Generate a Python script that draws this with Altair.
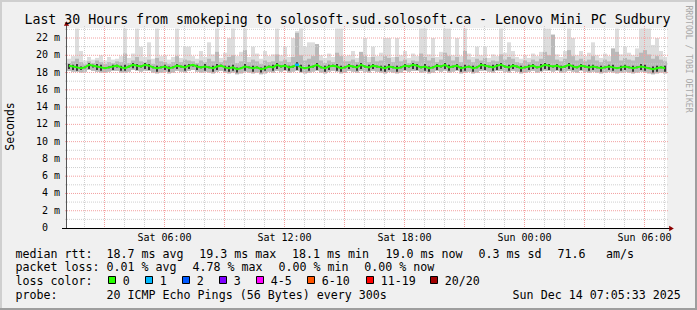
import altair as alt
import pandas as pd

FONT = "DejaVu Sans Mono"

# ---------------- data ----------------
t_start = 1.125          # hours since Sat 00:00 (left edge of plot)
t_span = 30.0            # "Last 30 Hours"
step_h = 0.2             # consolidated step (12 min)
y_top = 23.16            # top of the value axis (seconds * 1000)

median_ms = [18.8,18.7,18.6,18.5,18.6,18.9,18.8,18.7,18.6,18.5,
             18.6,18.7,18.8,18.6,18.5,18.7,18.9,18.8,18.7,18.9,
             18.8,18.6,18.5,18.6,18.7,18.5,18.6,18.8,18.7,18.6,
             18.8,18.9,18.7,18.6,18.7,18.6,18.5,18.7,18.8,18.6,
             18.5,18.6,18.4,18.5,18.7,18.6,18.5,18.6,18.4,18.5,
             18.7,18.6,18.9,18.7,18.8,18.6,18.7,18.9,18.6,18.5,
             18.6,18.7,18.9,18.6,18.5,18.7,18.8,18.7,18.5,18.6,
             18.8,18.7,18.6,18.9,18.7,18.6,18.8,18.7,18.6,18.5,
             18.7,18.6,18.5,18.6,18.8,18.7,18.9,18.8,18.6,18.7,
             18.5,18.6,18.8,18.7,18.9,18.6,18.7,18.8,18.5,18.6,
             18.7,18.5,18.6,18.9,18.8,18.7,18.6,18.8,18.9,18.7,
             18.6,18.8,18.7,18.5,18.6,18.7,18.8,18.6,18.7,18.9,
             18.8,18.7,18.8,18.6,18.7,18.9,18.7,18.6,18.8,18.7,
             18.6,18.7,18.6,18.5,18.6,18.7,18.6,18.5,18.6,18.7,
             18.6,18.5,18.6,18.7,18.6,18.5,18.4,18.5,18.6,18.5]

ping_max_ms = [19.6,19.9,23.1,20.5,19.4,19.8,19.5,19.7,20.0,19.4,
               19.8,19.5,19.6,19.9,23.1,19.7,20.2,23.1,21.0,19.8,
               21.5,19.6,23.1,19.9,20.0,19.5,19.8,23.1,19.7,21.0,
               21.0,19.9,19.6,20.5,19.8,21.5,20.1,23.1,19.7,20.3,
               22.0,23.1,19.9,20.4,23.1,19.8,21.0,20.2,19.6,20.5,
               19.9,20.1,23.1,20.0,21.0,19.8,22.0,22.8,23.1,21.0,
               21.5,21.5,19.9,20.0,19.7,20.2,19.8,23.1,23.1,19.9,
               20.0,20.5,19.7,20.1,22.0,19.8,21.0,19.9,20.3,22.0,
               22.0,19.8,22.0,20.0,20.5,19.7,20.2,19.9,23.1,23.1,
               20.1,22.0,19.8,20.4,23.1,23.1,20.0,22.0,19.9,23.1,
               20.2,19.8,21.0,20.0,21.0,19.7,20.1,19.9,23.1,20.3,
               21.5,20.5,19.8,19.6,20.0,19.7,20.2,19.9,20.4,23.1,
               23.1,21.0,20.1,19.8,20.5,23.1,22.0,20.0,20.5,19.9,
               20.3,21.5,20.0,19.7,20.2,19.9,20.6,23.1,20.1,21.0,
               20.3,20.0,20.8,23.1,23.1,23.1,21.2,22.0,20.5,19.8]

ping_upper_ms = [19.1,19.3,19.6,19.2,19.0,19.3,19.1,19.4,19.2,19.0,
                 19.2,19.1,19.3,19.2,20.2,19.1,19.4,19.8,19.3,19.2,
                 19.5,19.0,19.7,19.3,19.2,19.0,19.2,19.9,19.2,19.5,
                 19.4,19.3,19.1,19.4,19.2,19.6,19.3,20.4,19.2,19.4,
                 19.8,20.0,19.1,19.3,20.6,19.2,19.5,19.3,19.0,19.4,
                 19.2,19.3,20.1,19.3,19.5,19.2,19.8,22.6,20.0,19.4,
                 19.6,19.9,21.3,19.4,19.1,19.4,19.2,20.3,19.9,19.3,
                 19.3,19.5,19.2,20.4,19.9,19.2,19.8,19.3,19.4,19.9,
                 19.7,19.2,19.8,19.3,19.5,19.1,19.4,19.3,20.2,19.8,
                 19.4,19.7,19.2,19.5,20.3,19.9,19.4,19.8,19.2,20.5,
                 19.5,19.2,19.6,19.4,19.7,19.2,19.4,19.3,20.1,19.5,
                 19.8,19.6,19.2,19.1,19.4,19.2,19.5,19.3,19.6,20.4,
                 20.0,22.4,19.5,19.3,19.6,20.6,19.9,19.4,19.6,19.3,
                 19.5,19.9,19.4,19.2,19.5,19.3,20.8,20.4,19.4,19.7,
                 19.5,19.4,19.8,20.3,20.6,20.1,19.6,19.9,19.5,19.3]

ping_lower_ms = [18.2,18.1,18.1,18.0,18.1,18.3,18.2,18.1,18.0,18.0,
                 18.1,18.2,18.2,18.0,18.0,18.1,18.3,18.2,18.1,18.2,
                 18.2,18.0,17.9,18.0,18.1,17.9,18.0,18.2,18.1,18.0,
                 18.2,18.3,18.1,18.0,18.1,18.0,17.9,18.1,18.2,18.0,
                 17.9,18.0,17.8,17.9,18.1,18.0,17.9,18.0,17.8,17.9,
                 18.1,18.0,18.2,18.1,18.2,18.0,18.1,18.2,18.0,17.9,
                 18.0,18.1,18.2,18.0,17.9,18.1,18.2,18.1,17.9,18.0,
                 18.2,18.1,18.0,18.2,18.1,18.0,18.2,18.1,18.0,17.9,
                 18.1,18.0,17.9,18.0,18.2,18.1,18.2,18.2,18.0,18.1,
                 17.9,18.0,18.2,18.1,18.2,18.0,18.1,18.2,17.9,18.0,
                 18.1,17.9,18.0,18.2,18.2,18.1,18.0,18.2,18.2,18.1,
                 18.0,18.2,18.1,17.9,18.0,18.1,18.2,18.0,18.1,18.2,
                 18.2,18.1,18.2,18.0,18.1,18.2,18.1,18.0,18.2,18.1,
                 18.0,18.1,18.0,17.9,18.0,18.1,18.0,17.9,18.0,18.1,
                 18.0,17.9,18.0,18.1,18.0,17.9,17.8,17.9,18.0,17.9]

dark_lo_ms = [18.4,18.3,18.2,18.3,18.5,18.4,18.6,18.3,18.2,18.4,
              18.5,18.3,18.6,18.2,18.2,18.6,18.5,18.3,18.6,18.4,
              18.3,18.5,18.1,18.5,18.3,18.1,18.5,18.4,18.6,18.2,
              18.4,18.7,18.3,18.5,18.2,18.5,18.1,18.3,18.7,18.2,
              18.1,18.2,18.0,18.4,18.2,18.5,18.1,18.5,18.0,18.2,
              18.6,18.2,18.4,18.6,18.3,18.2,18.6,18.3,18.1,18.4,
              18.2,18.6,18.3,18.5,18.1,18.3,18.7,18.2,18.1,18.5,
              18.4,18.6,18.2,18.4,18.6,18.2,18.4,18.6,18.2,18.1,
              18.3,18.5,18.1,18.5,18.3,18.6,18.4,18.3,18.5,18.2,
              18.1,18.5,18.3,18.6,18.4,18.2,18.6,18.3,18.1,18.2,
              18.6,18.1,18.5,18.4,18.3,18.6,18.2,18.3,18.4,18.6,
              18.2,18.4,18.6,18.1,18.5,18.3,18.4,18.5,18.2,18.4,
              18.3,18.6,18.3,18.2,18.6,18.4,18.3,18.5,18.3,18.6,
              18.2,18.3,18.5,18.1,18.5,18.3,18.2,18.4,18.2,18.3,
              18.5,18.1,18.5,18.3,18.2,18.4,18.0,18.1,18.5,18.1]

dark_hi_ms = [19.0,18.9,19.0,18.7,18.7,19.1,18.9,19.0,18.9,18.6,
              18.7,18.9,18.9,18.8,18.9,18.8,19.1,19.0,18.8,19.1,
              19.0,18.7,18.8,18.7,18.9,18.7,18.7,19.0,18.8,18.9,
              19.0,19.0,18.9,18.7,19.0,18.7,18.8,19.0,18.9,18.8,
              18.8,18.9,18.6,18.6,19.0,18.7,18.8,18.7,18.6,18.8,
              18.8,18.9,19.1,18.8,19.0,18.8,18.8,19.2,18.9,18.6,
              18.9,18.8,19.1,18.7,18.8,18.9,18.9,19.0,18.8,18.7,
              19.0,18.8,18.9,19.1,18.8,18.9,19.0,18.8,18.8,18.8,
              19.0,18.7,18.8,18.7,19.0,18.8,19.1,19.0,18.7,19.0,
              18.7,18.7,19.0,18.8,19.1,18.9,18.8,19.0,18.7,18.9,
              18.8,18.8,18.7,19.1,19.0,18.8,18.9,19.0,19.1,18.8,
              18.9,19.0,18.8,18.8,18.7,18.9,19.0,18.7,19.0,19.1,
              19.0,18.8,19.0,18.8,18.8,19.1,18.9,18.7,19.0,18.8,
              18.9,18.9,18.7,18.8,18.7,18.9,18.9,18.6,18.8,18.9,
              18.7,18.8,18.7,19.0,18.9,18.6,18.7,18.8,18.7,18.8]

loss_by_step = {57: 1}   # pings lost (of 20) per step, only non-zero steps

x_minor_hours = [2, 4, 5, 7, 8, 10, 11, 13, 14, 16, 17, 19, 20, 22, 23, 25, 26, 28, 29, 31]
x_major_hours = [3, 6, 9, 12, 15, 18, 21, 24, 27, 30]
x_tick_hours = [6, 12, 18, 24, 30]
x_tick_labels = ["Sat 06:00", "Sat 12:00", "Sat 18:00", "Sun 00:00", "Sun 06:00"]

y_major_ms = [2, 4, 6, 8, 10, 12, 14, 16, 18, 20, 22]
y_minor_ms = [1, 3, 5, 7, 9, 11, 13, 15, 17, 19, 21, 23]
y_tick_ms = [0, 2, 4, 6, 8, 10, 12, 14, 16, 18, 20, 22]
y_tick_labels = ["0", "2 m", "4 m", "6 m", "8 m", "10 m", "12 m", "14 m",
                 "16 m", "18 m", "20 m", "22 m"]

loss_names = ["0", "1", "2", "3", "4-5", "6-10", "11-19", "20/20"]
loss_colors = ["#26ff00", "#00b8ff", "#0059ff", "#7e00ff", "#ff00ff",
               "#ff5500", "#ff0000", "#a10000"]

title_text = "Last 30 Hours from smokeping to solosoft.sud.solosoft.ca - Lenovo Mini PC Sudbury"
y_title = "Seconds"
side_text = "RRDTOOL / TOBI OETIKER"
date_text = "Sun Dec 14 07:05:33 2025"

legend_rows = [
    [("median rtt:", 15.5), ("18.7 ms avg", 106.5), ("19.3 ms max", 199.2),
     ("18.1 ms min", 292.0), ("19.0 ms now", 385.5), ("0.3 ms sd", 478.5),
     ("71.6", 557.5), ("am/s", 606.0)],
    [("packet loss:", 15.5), ("0.01 % avg", 106.5), ("4.78 % max", 192.5),
     ("0.00 % min", 278.5), ("0.00 % now", 364.2)],
    [("loss color:", 15.5)],
    [("probe:", 15.5), ("20 ICMP Echo Pings (56 Bytes) every 300s", 106.5)],
]
legend_baselines = [257.6, 271.3, 285.0, 298.7]
swatch_left = [108.5, 145.5, 182.5, 219.5, 256.5, 307.5, 366.5, 430.5]

# ---------------- layout constants (pixels) ----------------
PL, PT = 67, 28      # plot origin inside the 697x310 page
W, H = 600, 200

# ---------------- frames ----------------
n = len(median_ms)
steps = pd.DataFrame({
    "t0": [t_start + i * step_h for i in range(n)],
    "t1": [t_start + (i + 1) * step_h for i in range(n)],
    "tm": [t_start + (i + 0.5) * step_h for i in range(n)],
    "med": median_ms, "mx": ping_max_ms, "up": ping_upper_ms,
    "lo": ping_lower_ms, "dlo": dark_lo_ms, "dhi": dark_hi_ms,
    "loss": [loss_by_step.get(i, 0) for i in range(n)],
})

xs = alt.Scale(domain=[t_start, t_start + t_span], nice=False, zero=False)
ys = alt.Scale(domain=[0, y_top], nice=False, zero=False)

base = alt.Chart(steps)

light = base.mark_rect(color="#dddddd").encode(
    x=alt.X("t0:Q", scale=xs, axis=None), x2="t1",
    y=alt.Y("lo:Q", scale=ys, axis=None), y2="mx")
mid = base.mark_rect(color="#b9b9b9").encode(
    x=alt.X("t0:Q", scale=xs, axis=None), x2="t1",
    y=alt.Y("lo:Q", scale=ys, axis=None), y2="up")

def vgrid(hours, color):
    return alt.Chart(pd.DataFrame({"h": hours})).mark_rule(
        color=color, strokeDash=[1, 1], strokeWidth=1).encode(
        x=alt.X("h:Q", scale=xs, axis=None),
        y=alt.value(-2), y2=alt.value(H + 2))

def hgrid(vals, color):
    return alt.Chart(pd.DataFrame({"v": vals})).mark_rule(
        color=color, strokeDash=[1, 1], strokeWidth=1).encode(
        y=alt.Y("v:Q", scale=ys, axis=None),
        x=alt.value(-2), x2=alt.value(W + 2))

grid_minor_x = vgrid(x_minor_hours, "#cfcfcf")
grid_major_x = vgrid(x_major_hours, "#f3a0a0")
grid_minor_y = hgrid(y_minor_ms, "#cfcfcf")
grid_major_y = hgrid(y_major_ms, "#f3a0a0")

dark = base.mark_rule(color="#383838", strokeWidth=2).encode(
    x=alt.X("tm:Q", scale=xs, axis=None),
    y=alt.Y("dlo:Q", scale=ys, axis=None), y2="dhi")

median_line = base.mark_line(color="#26ff00", strokeWidth=2).encode(
    x=alt.X("tm:Q", scale=xs, axis=None),
    y=alt.Y("med:Q", scale=ys, axis=None))

loss_seg = base.transform_filter("datum.loss == 1").mark_rule(
    color=loss_colors[1], strokeWidth=2.5).encode(
    x=alt.X("t0:Q", scale=xs, axis=None), x2="t1",
    y=alt.Y("med:Q", scale=ys, axis=None))

# axes lines and arrows
y_axis_line = alt.Chart(pd.DataFrame({"a": [0]})).mark_rule(color="#555555").encode(
    x=alt.value(-0.5), y=alt.value(-4), y2=alt.value(H + 0.5))
x_axis_line = alt.Chart(pd.DataFrame({"a": [0]})).mark_rule(color="#000000").encode(
    x=alt.value(-5), x2=alt.value(W + 4), y=alt.value(H + 0.5))
arrow_up = alt.Chart(pd.DataFrame({"a": [0]})).mark_point(
    shape="triangle-up", filled=True, color="#8b0000", size=28, opacity=1).encode(
    x=alt.value(-0.5), y=alt.value(-4.5))
arrow_right = alt.Chart(pd.DataFrame({"a": [0]})).mark_point(
    shape="triangle-right", filled=True, color="#8b0000", size=28, opacity=1).encode(
    x=alt.value(W + 4.5), y=alt.value(H + 0.5))

# axis labels
xlab = alt.Chart(pd.DataFrame({"h": x_tick_hours, "lab": x_tick_labels})).mark_text(
    font=FONT, fontSize=10, color="#000000", align="center", baseline="alphabetic").encode(
    x=alt.X("h:Q", scale=xs, axis=None), y=alt.value(212.7), text="lab:N")

ynum = [s.split(" ")[0] for s in y_tick_labels]
yunit = [s.split(" ")[1] if " " in s else "" for s in y_tick_labels]
ylab_df = pd.DataFrame({"v": y_tick_ms, "num": ynum, "unit": yunit})
ylab_num = alt.Chart(ylab_df).mark_text(
    font=FONT, fontSize=10, color="#000000", align="right", baseline="middle").encode(
    y=alt.Y("v:Q", scale=ys, axis=None), x=alt.value(48 - PL), text="num:N")
ylab_unit = alt.Chart(ylab_df).mark_text(
    font=FONT, fontSize=10, color="#000000", align="left", baseline="middle").encode(
    y=alt.Y("v:Q", scale=ys, axis=None), x=alt.value(54 - PL), text="unit:N")

# titles
title = alt.Chart(pd.DataFrame({"t": [title_text]})).mark_text(
    font=FONT, fontSize=13.25, color="#000000", align="center", baseline="alphabetic").encode(
    x=alt.value(347.5 - PL), y=alt.value(24 - PT), text="t:N")
ytitle = alt.Chart(pd.DataFrame({"t": [y_title]})).mark_text(
    font=FONT, fontSize=11.5, color="#000000", align="center", baseline="middle", angle=270).encode(
    x=alt.value(10.5 - PL), y=alt.value(126.5 - PT), text="t:N")
side = alt.Chart(pd.DataFrame({"t": [side_text]})).mark_text(
    font=FONT, fontSize=8.1, color="#a8a8a8", align="center", baseline="middle", angle=90).encode(
    x=alt.value(688 - PL), y=alt.value(59 - PT), text="t:N")

# legend text
leg_records = []
for r, row in enumerate(legend_rows):
    for txt, px in row:
        leg_records.append({"txt": txt, "px": px - PL, "py": legend_baselines[r] - PT})
for name, left in zip(loss_names, swatch_left):
    leg_records.append({"txt": name, "px": left + 14.3 - PL, "py": legend_baselines[2] - PT})
leg_df = pd.DataFrame(leg_records)
legend_text = alt.Chart(leg_df).mark_text(
    font=FONT, fontSize=11.65, color="#000000", align="left", baseline="alphabetic").encode(
    x=alt.X("px:Q", scale=None, axis=None), y=alt.Y("py:Q", scale=None, axis=None), text="txt:N")

date_lbl = alt.Chart(pd.DataFrame({"t": [date_text]})).mark_text(
    font=FONT, fontSize=11.65, color="#000000", align="right", baseline="alphabetic").encode(
    x=alt.value(680.8 - PL), y=alt.value(legend_baselines[3] - PT), text="t:N")

sw_df = pd.DataFrame({
    "x1": [l - PL for l in swatch_left], "x2": [l + 7 - PL for l in swatch_left],
    "y1": [276.5 - PT] * len(swatch_left), "y2": [283.5 - PT] * len(swatch_left),
    "col": loss_colors})
swatches = alt.Chart(sw_df).mark_rect(stroke="#000000", strokeWidth=1).encode(
    x=alt.X("x1:Q", scale=None, axis=None), x2="x2",
    y=alt.Y("y1:Q", scale=None, axis=None), y2="y2",
    color=alt.Color("col:N", scale=None, legend=None))

# frame
one = pd.DataFrame({"a": [0]})
frame_top = alt.Chart(one).mark_rule(color="#cfcfcf", strokeWidth=2).encode(
    x=alt.value(-PL), x2=alt.value(697 - PL), y=alt.value(1 - PT))
frame_left = alt.Chart(one).mark_rule(color="#cfcfcf", strokeWidth=2).encode(
    x=alt.value(1 - PL), y=alt.value(-PT), y2=alt.value(310 - PT))
frame_bottom = alt.Chart(one).mark_rule(color="#9e9e9e", strokeWidth=2).encode(
    x=alt.value(-PL), x2=alt.value(697 - PL), y=alt.value(309 - PT))
frame_right = alt.Chart(one).mark_rule(color="#9e9e9e", strokeWidth=2).encode(
    x=alt.value(696 - PL), y=alt.value(-PT), y2=alt.value(310 - PT))

chart = alt.layer(
    light, mid,
    grid_minor_x, grid_minor_y, grid_major_x, grid_major_y,
    dark, median_line, loss_seg,
    y_axis_line, x_axis_line, arrow_up, arrow_right,
    xlab, ylab_num, ylab_unit,
    title, ytitle, side,
    legend_text, date_lbl, swatches,
    frame_top, frame_left, frame_bottom, frame_right,
).properties(
    width=W, height=H,
    padding={"left": PL, "top": PT, "right": 697 - PL - W, "bottom": 310 - PT - H},
    autosize=alt.AutoSizeParams(type="none"),
    background="#f0f0f0",
).configure_view(fill="#ffffff", stroke=None)

chart.save("out.html", embed_options={"renderer": "svg", "actions": False})
